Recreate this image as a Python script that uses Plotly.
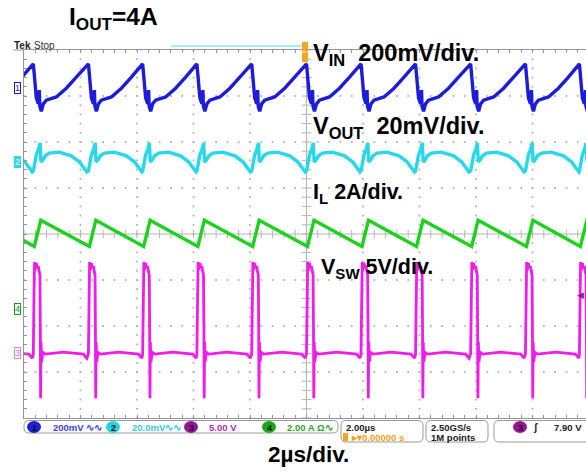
import plotly.graph_objects as go

# ---------------- data ----------------
# switching (rising SW edge) instants, microseconds (2 us/div, trigger at 0)
edge_times_us = [-11.60, -9.67, -7.72, -5.80, -3.88, -1.94, 0.00, 1.93, 3.86, 5.81, 7.75, 9.66]

# one switching period of each channel, time after edge (us) and screen divisions
vin_dt_us = [0, 0.035, 0.106, 0.177, 0.212, 0.230, 0.283, 0.354, 0.460, 0.814, 1.168, 1.522, 1.805, 1.912]
vin_div = [3.70, 3.46, 2.96, 2.83, 3.13, 2.78, 2.67, 2.83, 2.91, 2.98, 3.17, 3.41, 3.61, 3.69]

vout_dt_us = [0, 0.053, 0.106, 0.177, 0.241, 0.269, 0.319, 0.425, 0.566, 0.920, 1.345, 1.628, 1.805, 1.894]
vout_div = [1.37, 1.61, 1.72, 1.83, 1.98, 1.57, 1.59, 1.70, 1.76, 1.78, 1.70, 1.57, 1.43, 1.35]

il_dt_us = [0, 0.035, 0.265, 1.912]
il_div = [-0.24, -0.27, 0.30, -0.24]

vsw_dt_us = [0, 0.021, 0.042, 0.071, 0.106, 0.142, 0.177, 0.212, 0.234, 0.248, 0.258,
             0.273, 0.294, 0.336, 0.425, 1.062, 1.770, 1.894]
vsw_div = [-2.61, -1.43, -0.61, -0.78, -0.63, -0.74, -0.70, -0.83, -0.89, -2.09, -3.57,
           -2.35, -2.78, -2.57, -2.61, -2.57, -2.61, -2.70]

# channel ground markers (divisions)
marker_channels = ["1", "2", "4", "3"]
marker_levels_div = [3.17, 1.57, -1.63, -2.59]

# labels
title_text = "I<sub>OUT</sub>=4A"
trace_labels = ["V<sub>IN</sub>\u00a0\u00a0200mV/div.",
                "V<sub>OUT</sub>\u00a0\u00a020mV/div.",
                "I<sub>L</sub>\u00a02A/div.",
                "V<sub>SW</sub>\u00a05V/div."]
time_label = "2µs/div."
status_scales = ["200mV ∿∿", "20.0mV∿∿", "5.00 V", "2.00 A Ω∿"]
status_numbers = ["1", "2", "3", "4"]

# ---------------- colours ----------------
C_BLUE = "rgb(28,28,218)"
C_CYAN = "rgb(40,216,234)"
C_GREEN = "rgb(28,210,28)"
C_PINK = "rgb(240,28,234)"
GRID = "#b4b4b4"
BORDER = "#959595"

W, H = 586, 476
L, R, T, B = 24, 0, 50, 58
PW, PH = W - L - R, H - T - B


def PX(x):
    return (x - L) / PW


def PY(y):
    return (H - B - y) / PH


def tile(edges, dts, vals):
    xs, ys = [], []
    for e in edges:
        for d, v in zip(dts, vals):
            xs.append(e + d)
            ys.append(v)
    return xs, ys


fig = go.Figure()

# ---- graticule dots ----
gx, gy = [], []
for i in range(-4, 5):
    if i == 0:
        continue
    for j in range(-20, 21):
        gx.append(2 * i)
        gy.append(j * 0.2)
for k in range(-3, 4):
    if k == 0:
        continue
    for j in range(-25, 25):
        gx.append(j * 0.4)
        gy.append(k)
fig.add_trace(go.Scatter(x=gx, y=gy, mode="markers", hoverinfo="skip",
                         marker=dict(size=1.8, color=GRID, symbol="square")))
# center line ticks
tx = [j * 0.4 for j in range(-25, 25)]
fig.add_trace(go.Scatter(x=tx, y=[0] * len(tx), mode="markers", hoverinfo="skip",
                         marker=dict(size=6, symbol="line-ns", line=dict(width=1, color=GRID))))
ty = [j * 0.2 for j in range(-20, 21)]
fig.add_trace(go.Scatter(x=[0] * len(ty), y=ty, mode="markers", hoverinfo="skip",
                         marker=dict(size=7, symbol="line-ew", line=dict(width=1, color=GRID))))

# ---- waveforms ----
for dts, vals, col, w in [(il_dt_us, il_div, C_GREEN, 3.4),
                          (vsw_dt_us, vsw_div, C_PINK, 2.8),
                          (vout_dt_us, vout_div, C_CYAN, 3.4),
                          (vin_dt_us, vin_div, C_BLUE, 3.4)]:
    xs, ys = tile(edge_times_us, dts, vals)
    fig.add_trace(go.Scatter(x=xs, y=ys, mode="lines", hoverinfo="skip",
                             line=dict(color=col, width=w)))

shapes = []
# center solid lines
shapes.append(dict(type="line", xref="x", yref="y", x0=0, x1=0, y0=-4, y1=4,
                   line=dict(color=GRID, width=1), layer="below"))
shapes.append(dict(type="line", xref="x", yref="y", x0=-10, x1=10, y0=0, y1=0,
                   line=dict(color=GRID, width=1), layer="below"))
# top border extension under "Tek Stop"
shapes.append(dict(type="line", xref="paper", yref="paper", x0=PX(13), x1=PX(24),
                   y0=PY(50), y1=PY(50), line=dict(color=BORDER, width=1)))
# cyan record-view bar
shapes.append(dict(type="line", xref="paper", yref="paper", x0=PX(171), x1=PX(302),
                   y0=PY(46), y1=PY(46), line=dict(color="rgb(70,222,240)", width=1)))
# orange trigger position marker
for y0, y1 in [(42, 51.5), (52.5, 62)]:
    shapes.append(dict(type="rect", xref="paper", yref="paper", x0=PX(302), x1=PX(308),
                       y0=PY(y1), y1=PY(y0), fillcolor="rgb(245,165,30)", line=dict(width=0)))


def rrect(x0, y0, x1, y1, r):
    pts = ("M {a},{b} L {c},{b} Q {x1},{b} {x1},{e} L {x1},{f} Q {x1},{g} {c},{g} "
           "L {a},{g} Q {x0},{g} {x0},{f} L {x0},{e} Q {x0},{b} {a},{b} Z")
    return pts.format(a=PX(x0 + r), b=PY(y0), c=PX(x1 - r), x1=PX(x1), e=PY(y0 + r),
                      f=PY(y1 - r), g=PY(y1), x0=PX(x0))


for bx in [(24, 420.5, 338, 433), (341, 420.5, 423, 442), (426, 420.5, 488, 442),
           (494, 420.5, 610, 442)]:
    shapes.append(dict(type="path", xref="paper", yref="paper", path=rrect(*bx, 5),
                       line=dict(color="#9a9a9a", width=1)))

ell_cols = ["rgb(30,30,220)", "rgb(40,210,225)", "rgb(150,20,150)", "rgb(20,170,20)"]
ell_x = [27, 106, 184, 262]
for x0, c in zip(ell_x, ell_cols):
    shapes.append(dict(type="circle", xref="paper", yref="paper", x0=PX(x0), x1=PX(x0 + 14),
                       y0=PY(433), y1=PY(421), fillcolor=c, line=dict(width=0)))
shapes.append(dict(type="circle", xref="paper", yref="paper", x0=PX(513), x1=PX(527),
                   y0=PY(433), y1=PY(421), fillcolor="rgb(150,20,150)", line=dict(width=0)))
# orange trigger icon in the time box
shapes.append(dict(type="rect", xref="paper", yref="paper", x0=PX(343), x1=PX(348),
                   y0=PY(441), y1=PY(433), fillcolor="rgb(245,165,30)", line=dict(width=0)))

ann = []
BIG = "Liberation Sans, Arial, sans-serif"


def A(x, y, text, size, color="black", xa="left", ya="middle", weight="normal", **kw):
    d = dict(x=PX(x), y=PY(y), xref="paper", yref="paper", text=text, showarrow=False,
             xanchor=xa, yanchor=ya,
             font=dict(family=BIG, size=size, color=color, weight=weight))
    d.update(kw)
    ann.append(d)


A(67, 19, title_text, 24.5, weight="bold")
A(311, 54, trace_labels[0], 23.5, weight="bold")
A(311, 127, trace_labels[1], 23.5, weight="bold")
A(311, 193, trace_labels[2], 21.5, weight="bold")
A(319, 268, trace_labels[3], 21.5, weight="bold")
A(266, 454, time_label, 22.5, weight="bold")

A(12, 46, "Tek", 10, color="#202020", weight="bold")
A(32, 46, "Stop", 10, color="#303030")

# channel ground markers on left edge
mk_style = {"1": ("white", C_BLUE, C_BLUE), "2": (C_CYAN, "white", C_CYAN),
            "4": ("white", "rgb(20,160,20)", "rgb(20,160,20)"),
            "3": ("white", "rgb(220,110,220)", "rgb(220,140,220)")}
for ch, lvl in zip(marker_channels, marker_levels_div):
    bg, fc, bc = mk_style[ch]
    ypx = H - B - (lvl + 4) / 8 * PH
    A(17.5, ypx, ch, 9, color=fc, xa="center", bgcolor=bg, bordercolor=bc,
      borderwidth=1, borderpad=0)

# trigger level marker on right edge
A(586, 295, "◀", 9, color="rgb(160,20,160)", xa="right")

# status bar
st_cols = ["rgb(60,60,240)", "rgb(50,200,220)", "rgb(180,40,180)", "rgb(40,165,40)"]
st_x = [51, 130, 207, 285]
for n, x0 in zip(status_numbers, ell_x):
    A(x0 + 7, 427.5, n, 9, color="#101010", xa="center", weight="bold")
for x0, txt, c in zip(st_x, status_scales, st_cols):
    A(x0, 427, txt, 9.5, color=c, weight="bold")
A(344, 427, "2.00µs", 9.5, color="#202020", weight="bold")
A(349, 437.5, "▸▾0.00000 s", 9.5, color="rgb(240,160,30)", weight="bold")
A(429, 427, "2.50GS/s", 9.5, color="#202020", weight="bold")
A(429, 437.5, "1M points", 9.5, color="#202020", weight="bold")
A(520, 427.5, "3", 9, color="#101010", xa="center", weight="bold")
A(535, 427, "ʃ", 10, color="#202020", xa="center", weight="bold")
A(552, 427, "7.90 V", 9.5, color="#202020", weight="bold")

fig.update_layout(
    width=W, height=H, margin=dict(l=L, r=R, t=T, b=B, pad=0),
    paper_bgcolor="white", plot_bgcolor="white", showlegend=False,
    shapes=shapes, annotations=ann,
    xaxis=dict(range=[-10, -10 + PW / 28.25], showgrid=False, zeroline=False,
               showline=True, linecolor=BORDER, linewidth=1, mirror="ticks",
               ticks="inside", ticklen=3, tickcolor=BORDER, tick0=-10, dtick=0.4,
               showticklabels=False, fixedrange=True),
    yaxis=dict(range=[-4, 4], showgrid=False, zeroline=False,
               showline=True, linecolor=BORDER, linewidth=1, mirror=False,
               ticks="inside", ticklen=3, tickcolor=BORDER, tick0=-4, dtick=0.2,
               showticklabels=False, fixedrange=True),
)

fig.write_html("out.html", config={"displayModeBar": False},
               post_script="document.body.style.margin='0';")
